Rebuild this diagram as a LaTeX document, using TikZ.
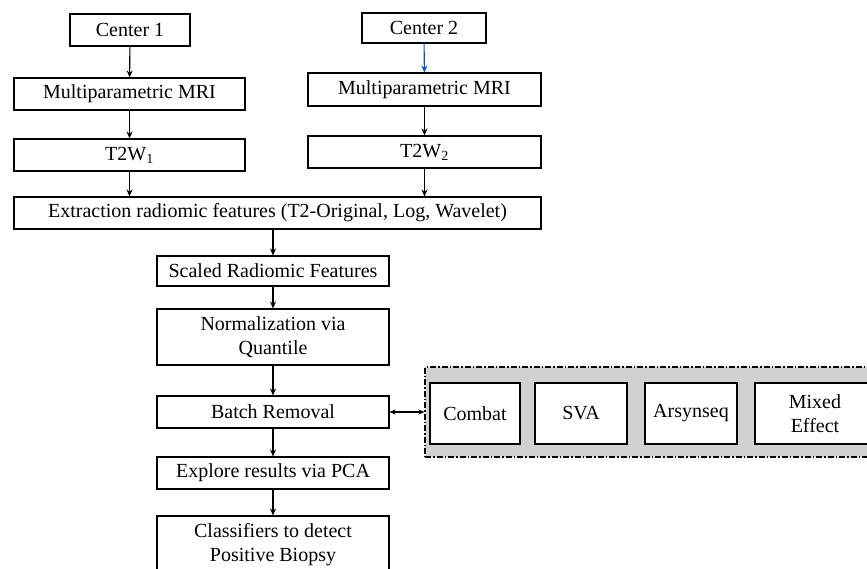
\documentclass[tikz,border=0pt]{standalone}
\usepackage{fontspec}
\setmainfont{Liberation Serif}
\usetikzlibrary{positioning, arrows.meta}

\begin{document}
\begin{tikzpicture}[x=1pt, y=-1pt, line width=1.1pt,
    stepbox/.style={rectangle, draw, fill=white, align=center, inner sep=2pt, font=\fontsize{20}{24}\selectfont},
    flow/.style={-{Stealth[length=7pt, width=6pt]}}]
        \useasboundingbox (0,0) rectangle (867,568);
        \clip (0,0) rectangle (867,568);
        % two centers
        \node (c1) [stepbox, minimum width=120pt, minimum height=32pt] at (130,30) {Center 1};
        \node (c2) [stepbox, minimum width=124pt, minimum height=30pt] at (424,28) {Center 2};
        \node (mri1) [stepbox, minimum width=231pt, minimum height=32pt] at (129.5,94) {Multiparametric MRI};
        \node (mri2) [stepbox, minimum width=233pt, minimum height=33pt] at (424.5,89.5) {Multiparametric MRI};
        \node (t2w1) [stepbox, minimum width=231pt, minimum height=32pt] at (129.5,155) {T2W\textsubscript{1}};
        \node (t2w2) [stepbox, minimum width=233pt, minimum height=32pt] at (424.5,152) {T2W\textsubscript{2}};
        \node (extract) [stepbox, minimum width=527pt, minimum height=32pt] at (277.5,213) {Extraction radiomic features (T2-Original, Log, Wavelet)};
        % pipeline
        \node (scaled) [stepbox, minimum width=232pt, minimum height=30pt] at (273,271) {Scaled Radiomic Features};
        \node (norm) [stepbox, minimum width=232pt, minimum height=56pt] at (273,337) {Normalization via\\Quantile};
        \node (batch) [stepbox, minimum width=232pt, minimum height=32pt] at (273,412) {Batch Removal};
        \node (explore) [stepbox, minimum width=232pt, minimum height=32pt] at (273,473) {Explore results via PCA};
        \node (classif) [stepbox, minimum width=232pt, minimum height=58pt] at (273,545) {Classifiers to detect\\Positive Biopsy};
        % batch methods
        \node (methods) [draw, dash pattern=on 6pt off 2pt on 1.5pt off 2pt, fill=black!18, minimum width=455pt, minimum height=90pt] at (652.5,412) {};
        \node (combat) [stepbox, minimum width=90pt, minimum height=61pt] at (475,413.5) {Combat};
        \node (sva) [stepbox, minimum width=92pt, minimum height=61pt] at (581,413.5) {SVA};
        \node (arsyn) [stepbox, minimum width=92pt, minimum height=61pt] at (691,413.5) {Arsynseq};
        \node (mixed) [stepbox, minimum width=120pt, minimum height=61pt, text width=110pt] at (815,413.5) {Mixed\\Effect};

        \draw[flow] (c1) -- (mri1);
        \draw[flow, blue!70!cyan] (c2) -- (mri2);
        \draw[flow] (mri1) -- (t2w1);
        \draw[flow] (mri2) -- (t2w2);
        \draw[flow] (t2w1) -- (t2w1 |- extract.north);
        \draw[flow] (t2w2) -- (t2w2 |- extract.north);
        \draw[flow] (extract.south -| scaled.north) -- (scaled);
        \draw[flow] (scaled) -- (norm);
        \draw[flow] (norm) -- (batch);
        \draw[flow] (batch) -- (explore);
        \draw[flow] (explore) -- (classif);
        \draw[{Stealth[length=6pt, width=5pt]}-{Stealth[length=6pt, width=5pt]}] (batch) -- (batch -| methods.west);
    \end{tikzpicture}
\end{document}
